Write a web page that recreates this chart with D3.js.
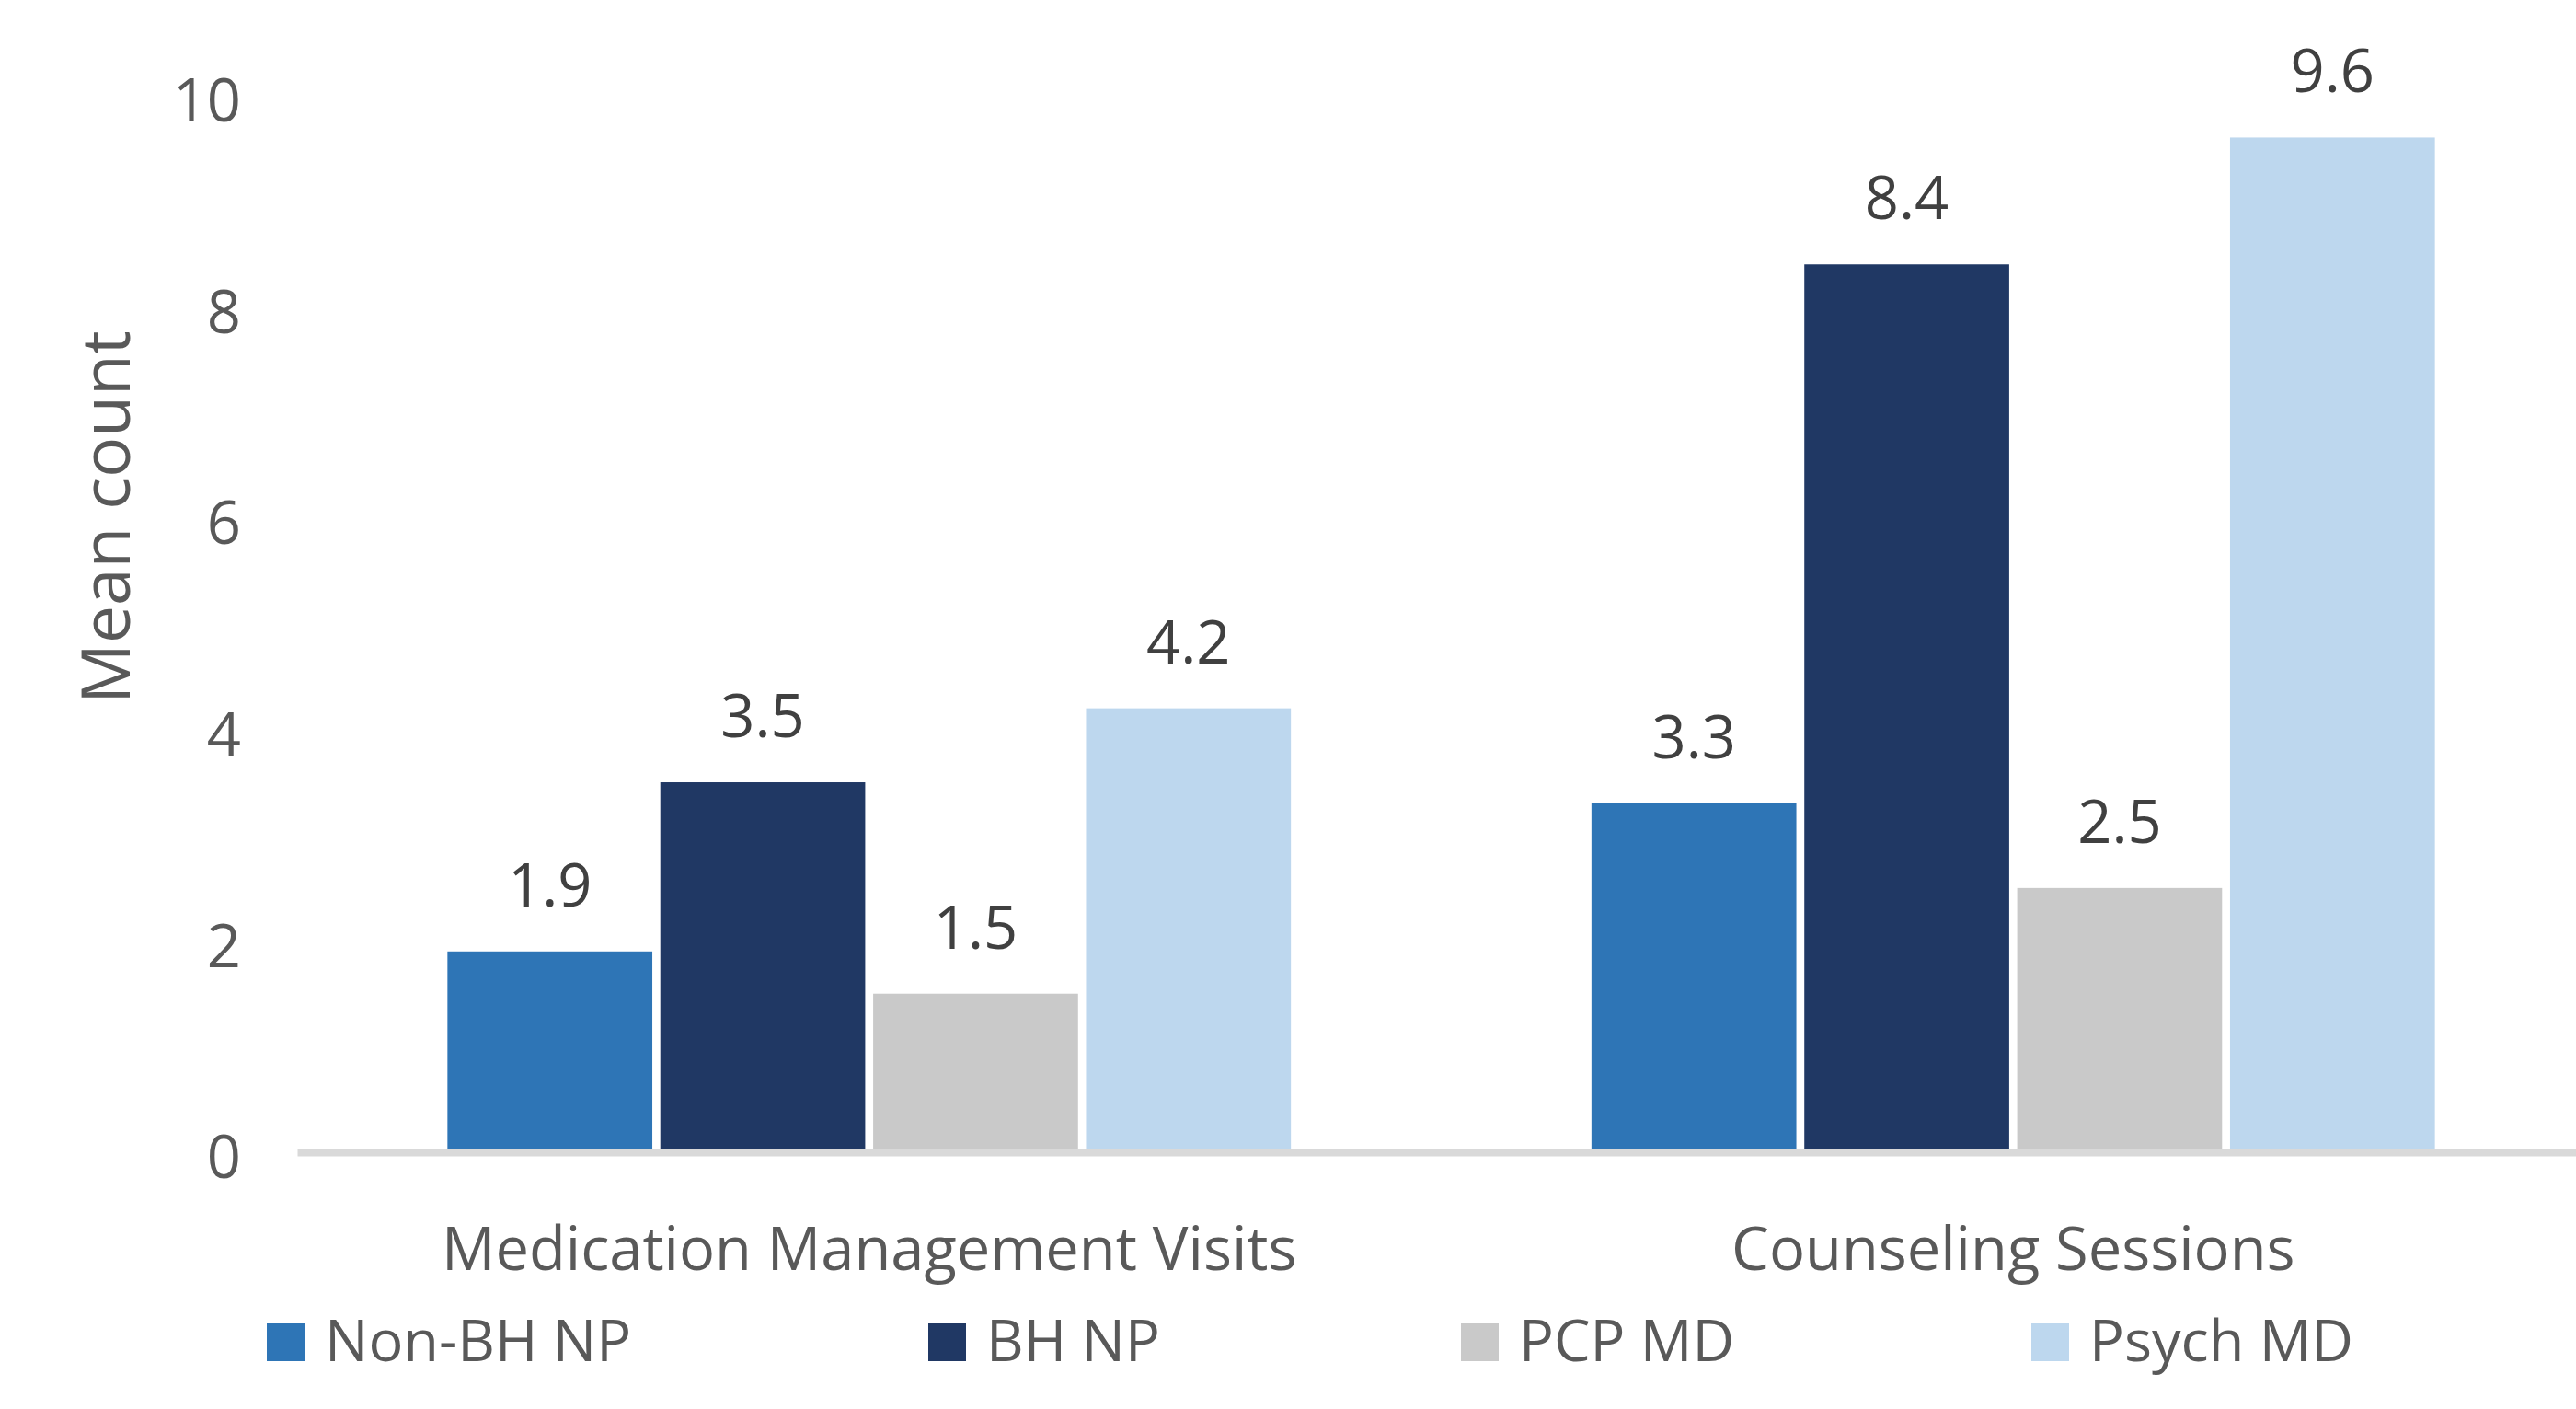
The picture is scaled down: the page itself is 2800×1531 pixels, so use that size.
<!DOCTYPE html>
<html>
<head>
<meta charset="utf-8">
<script src="https://cdn.jsdelivr.net/npm/d3@7"></script>
<style>
  html, body { margin: 0; padding: 0; background: #fff; }
  svg { display: block; }
  text { font-family: "Open Sans", "Noto Sans", sans-serif; }
</style>
</head>
<body>
<svg id="chart" width="2800" height="1531"></svg>
<script>
// ---- data ----
const categories = ["Medication Management Visits", "Counseling Sessions"];
const seriesNames = ["Non-BH NP", "BH NP", "PCP MD", "Psych MD"];
const nonBhNp = [1.9, 3.3];
const bhNp = [3.5, 8.4];
const pcpMd = [1.5, 2.5];
const psychMd = [4.2, 9.6];
const yTicks = [0, 2, 4, 6, 8, 10];
const yTitle = "Mean count";
const seriesColors = ["#2E75B6", "#203864", "#C9C9C9", "#BDD7EE"];

const seriesValues = [nonBhNp, bhNp, pcpMd, psychMd];

// ---- layout ----
const svg = d3.select("#chart");

const y = d3.scaleLinear().domain([0, 10]).range([1252, 103.5]);
const x0 = d3.scaleBand().domain(categories).range([323, 2810]).paddingInner(0).paddingOuter(0);
const x1 = d3.scaleBand().domain(seriesNames).range([0, x0.bandwidth()])
  .paddingInner(0.0375).paddingOuter(0.706);

// bars
const groups = svg.append("g").selectAll("g")
  .data(categories)
  .join("g")
  .attr("transform", d => `translate(${x0(d)},0)`);

const barData = ci => seriesNames.map((s, si) => ({ s, si, v: seriesValues[si][ci] }));

groups.each(function(c, ci) {
  const g = d3.select(this);
  const data = barData(ci);
  g.selectAll("rect")
    .data(data)
    .join("rect")
    .attr("x", d => x1(d.s))
    .attr("width", x1.bandwidth())
    .attr("y", d => y(d.v))
    .attr("height", d => y(0) - y(d.v))
    .attr("fill", d => seriesColors[d.si]);
  g.selectAll("text.lbl")
    .data(data)
    .join("text")
    .attr("class", "lbl")
    .attr("x", d => x1(d.s) + x1.bandwidth() / 2)
    .attr("y", d => y(d.v) - 49)
    .attr("text-anchor", "middle")
    .attr("font-size", 65)
    .attr("fill", "#404040")
    .text(d => d.v.toFixed(1));
});

// y axis
const yAxis = svg.append("g")
  .attr("transform", "translate(262,0)")
  .call(d3.axisLeft(y).tickValues(yTicks).tickSize(0).tickPadding(0).tickFormat(d3.format("d")));
yAxis.select(".domain").remove();
yAxis.selectAll("text")
  .attr("font-size", 65)
  .attr("font-family", "'Open Sans', sans-serif")
  .attr("fill", "#595959")
  .attr("dy", "0.43em");

// x axis
const xAxis = svg.append("g")
  .attr("transform", `translate(0,${y(0)})`)
  .call(d3.axisBottom(x0).tickSize(0).tickSizeOuter(0).tickPadding(0));
xAxis.select(".domain")
  .attr("stroke", "#D9D9D9")
  .attr("stroke-width", 8);
xAxis.selectAll("text")
  .attr("font-size", 65)
  .attr("font-family", "'Open Sans', sans-serif")
  .attr("fill", "#595959")
  .attr("y", 128)
  .attr("dy", null);

// y title
svg.append("text")
  .attr("transform", "translate(141,562) rotate(-90)")
  .attr("text-anchor", "middle")
  .attr("font-size", 73)
  .attr("fill", "#595959")
  .text(yTitle);

// legend (layout positions of the entries)
const legendX = [290, 1009, 1588, 2208];
const legend = svg.append("g");
seriesNames.forEach((name, i) => {
  legend.append("rect")
    .attr("x", legendX[i]).attr("y", 1438)
    .attr("width", 41).attr("height", 41)
    .attr("fill", seriesColors[i]);
  legend.append("text")
    .attr("x", legendX[i] + 63).attr("y", 1479)
    .attr("font-size", 63)
    .attr("fill", "#595959")
    .text(name);
});
</script>
</body>
</html>
